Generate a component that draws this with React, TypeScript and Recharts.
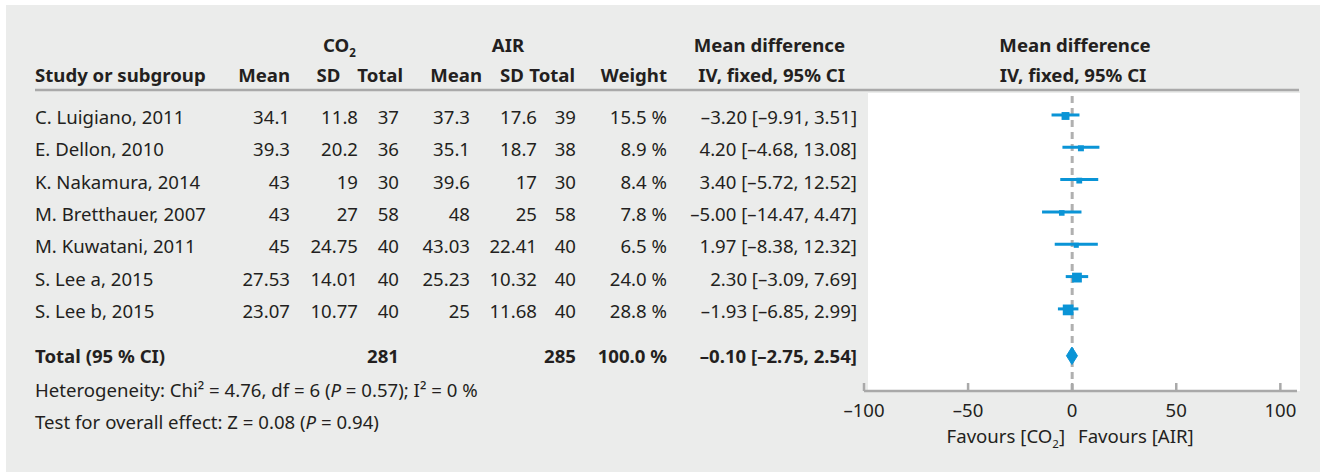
import React from 'react';
import { ComposedChart, Scatter, XAxis, YAxis, ErrorBar, ReferenceLine } from 'recharts';

// ---------- data ----------
const studies = [
  'C. Luigiano, 2011',
  'E. Dellon, 2010',
  'K. Nakamura, 2014',
  'M. Bretthauer, 2007',
  'M. Kuwatani, 2011',
  'S. Lee a, 2015',
  'S. Lee b, 2015',
];
const co2Mean = ['34.1', '39.3', '43', '43', '45', '27.53', '23.07'];
const co2SD = ['11.8', '20.2', '19', '27', '24.75', '14.01', '10.77'];
const co2Total = [37, 36, 30, 58, 40, 40, 40];
const airMean = ['37.3', '35.1', '39.6', '48', '43.03', '25.23', '25'];
const airSD = ['17.6', '18.7', '17', '25', '22.41', '10.32', '11.68'];
const airTotal = [39, 38, 30, 58, 40, 40, 40];
const weights = [15.5, 8.9, 8.4, 7.8, 6.5, 24.0, 28.8];
const meanDiff = [-3.2, 4.2, 3.4, -5.0, 1.97, 2.3, -1.93];
const ciLower = [-9.91, -4.68, -5.72, -14.47, -8.38, -3.09, -6.85];
const ciUpper = [3.51, 13.08, 12.52, 4.47, 12.32, 7.69, 2.99];

const totalCo2 = 281;
const totalAir = 285;
const totalWeight = 100.0;
const totalMD = -0.1;
const totalLower = -2.75;
const totalUpper = 2.54;

const xTicks = [-100, -50, 0, 50, 100];

// ---------- layout / style ----------
const BLUE = '#0a94d6';
const TEXT = '#231f20';
const AXIS = '#a9a9a9';
const FONT = '"Noto Sans", sans-serif';
const FS = 18.6;

const TOTAL_ROW = studies.length + 0.45;
const Y_DOMAIN: [number, number] = [-0.68, 8.54];
const PLOT_TOP = 93;
const PLOT_H = 298;
const rowY = (r: number) => PLOT_TOP + ((r - Y_DOMAIN[0]) / (Y_DOMAIN[1] - Y_DOMAIN[0])) * PLOT_H;

const minus = (s: string) => s.replace('-', '\u2013');
const fmt2 = (v: number) => minus(v.toFixed(2));
const fmtCI = (m: number, l: number, u: number) => `${fmt2(m)} [${fmt2(l)}, ${fmt2(u)}]`;
const fmtW = (w: number) => `${w.toFixed(1)} %`;

const studyPoints = studies.map((name, i) => ({
  name,
  x: meanDiff[i],
  y: i,
  w: weights[i],
  err: [meanDiff[i] - ciLower[i], ciUpper[i] - meanDiff[i]],
}));

const DIAMOND_HALF = 0.27;
const diamondPoints = [
  { x: totalLower, y: TOTAL_ROW },
  { x: totalMD, y: TOTAL_ROW - DIAMOND_HALF },
  { x: totalUpper, y: TOTAL_ROW },
  { x: totalMD, y: TOTAL_ROW + DIAMOND_HALF },
  { x: totalLower, y: TOTAL_ROW },
];

const SquareShape = (props: any) => {
  const { cx, cy, payload } = props;
  const s = 2.0 * Math.sqrt(payload.w);
  return <rect x={cx - s / 2} y={cy - s / 2 + 1} width={s} height={s} fill={BLUE} />;
};

const EmptyShape = () => <g />;

const AxisTick = (props: any) => {
  const { x, y, payload } = props;
  return (
    <g>
      <line x1={x} x2={x} y1={y - 8} y2={y} stroke={AXIS} strokeWidth={2.5} />
      <text x={x} y={y + 26} textAnchor="middle" fill={TEXT} fontFamily={FONT} fontSize={FS}>
        {minus(String(payload.value))}
      </text>
    </g>
  );
};

type TP = {
  x: number;
  y: number;
  a?: 'start' | 'middle' | 'end';
  b?: boolean;
  children: React.ReactNode;
};
const T = ({ x, y, a = 'start', b = false, children }: TP) => (
  <text x={x} y={y} textAnchor={a} fontWeight={b ? 700 : 400} fill={TEXT} fontFamily={FONT} fontSize={FS}>
    {children}
  </text>
);

const Sub2 = () => (
  <tspan fontSize={11.5} dy={5}>
    2
  </tspan>
);

const COL = {
  study: 35,
  co2Mean: 290,
  co2SD: 358,
  co2Total: 399,
  airMean: 470,
  airSD: 537,
  airTotal: 576,
  weight: 667,
  md: 857,
};

export default function App() {
  const H1 = 52;
  const H2 = 82;
  return (
    <div style={{ position: 'absolute', left: 0, top: 0, width: 1320, height: 473, background: '#ffffff' }}>
      <div style={{ position: 'absolute', left: 6, top: 5, width: 1314, height: 467, background: '#ebeceb' }} />
      <div style={{ position: 'absolute', left: 868, top: 93, width: 432, height: 298, background: '#ffffff' }} />
      <svg width={1320} height={473} style={{ position: 'absolute', left: 0, top: 0 }}>
        <line x1={35} x2={1299} y1={90} y2={90} stroke={AXIS} strokeWidth={2.5} />
        {/* header line 1 */}
        <T x={323} y={H1} b>
          CO<Sub2 />
        </T>
        <T x={508} y={H1} a="middle" b>
          AIR
        </T>
        <T x={845} y={H1} a="end" b>
          Mean difference
        </T>
        <T x={1075} y={H1} a="middle" b>
          Mean difference
        </T>
        {/* header line 2 */}
        <T x={COL.study} y={H2} b>
          Study or subgroup
        </T>
        <T x={290} y={H2} a="end" b>
          Mean
        </T>
        <T x={328.5} y={H2} a="middle" b>
          SD
        </T>
        <T x={403} y={H2} a="end" b>
          Total
        </T>
        <T x={482} y={H2} a="end" b>
          Mean
        </T>
        <T x={512} y={H2} a="middle" b>
          SD
        </T>
        <T x={575} y={H2} a="end" b>
          Total
        </T>
        <T x={667} y={H2} a="end" b>
          Weight
        </T>
        <T x={845} y={H2} a="end" b>
          IV, fixed, 95% CI
        </T>
        <T x={1073} y={H2} a="middle" b>
          IV, fixed, 95% CI
        </T>
        {/* rows */}
        {studies.map((s, i) => {
          const by = rowY(i) + 9;
          return (
            <g key={s}>
              <T x={COL.study} y={by}>{s}</T>
              <T x={COL.co2Mean} y={by} a="end">{co2Mean[i]}</T>
              <T x={COL.co2SD} y={by} a="end">{co2SD[i]}</T>
              <T x={COL.co2Total} y={by} a="end">{co2Total[i]}</T>
              <T x={COL.airMean} y={by} a="end">{airMean[i]}</T>
              <T x={COL.airSD} y={by} a="end">{airSD[i]}</T>
              <T x={COL.airTotal} y={by} a="end">{airTotal[i]}</T>
              <T x={COL.weight} y={by} a="end">{fmtW(weights[i])}</T>
              <T x={COL.md} y={by} a="end">{fmtCI(meanDiff[i], ciLower[i], ciUpper[i])}</T>
            </g>
          );
        })}
        {/* total */}
        <T x={COL.study} y={rowY(TOTAL_ROW) + 7.5} b>Total (95 % CI)</T>
        <T x={COL.co2Total} y={rowY(TOTAL_ROW) + 7.5} a="end" b>{totalCo2}</T>
        <T x={COL.airTotal} y={rowY(TOTAL_ROW) + 7.5} a="end" b>{totalAir}</T>
        <T x={COL.weight} y={rowY(TOTAL_ROW) + 7.5} a="end" b>{fmtW(totalWeight)}</T>
        <T x={COL.md} y={rowY(TOTAL_ROW) + 7.5} a="end" b>{fmtCI(totalMD, totalLower, totalUpper)}</T>
        <T x={COL.study} y={397}>
          Heterogeneity: Chi² = 4.76, df = 6 (<tspan fontStyle="italic">P</tspan> = 0.57); I² = 0 %
        </T>
        <T x={COL.study} y={429}>
          Test for overall effect: Z = 0.08 (<tspan fontStyle="italic">P</tspan> = 0.94)
        </T>
        <T x={1065} y={443} a="end">
          Favours [CO<Sub2 />
          <tspan dy={-5}>]</tspan>
        </T>
        <T x={1078} y={443}>Favours [AIR]</T>
      </svg>
      <div style={{ position: 'absolute', left: 804, top: 83 }}>
        <ComposedChart width={510} height={368} margin={{ top: 10, right: 17, bottom: 0, left: 60 }}>
          <XAxis
            type="number"
            dataKey="x"
            domain={[-100, 108]}
            allowDataOverflow
            ticks={xTicks}
            interval={0}
            tickSize={0}
            tickMargin={0}
            tickLine={false}
            axisLine={{ stroke: AXIS, strokeWidth: 2.5 }}
            tick={<AxisTick />}
            height={60}
          />
          <YAxis type="number" dataKey="y" domain={Y_DOMAIN} allowDataOverflow reversed hide />
          <ReferenceLine x={0} stroke="#b0b0b0" strokeWidth={3} strokeDasharray="7 5" />
          <Scatter data={studyPoints} fill={BLUE} shape={<SquareShape />} isAnimationActive={false}>
            <ErrorBar dataKey="err" direction="x" width={0} stroke={BLUE} strokeWidth={3} isAnimationActive={false} />
          </Scatter>
          <Scatter
            data={diamondPoints}
            fill={BLUE}
            line={{ stroke: BLUE, strokeWidth: 1, fill: BLUE }}
            lineType="joint"
            shape={<EmptyShape />}
            isAnimationActive={false}
          />
        </ComposedChart>
      </div>
    </div>
  );
}
